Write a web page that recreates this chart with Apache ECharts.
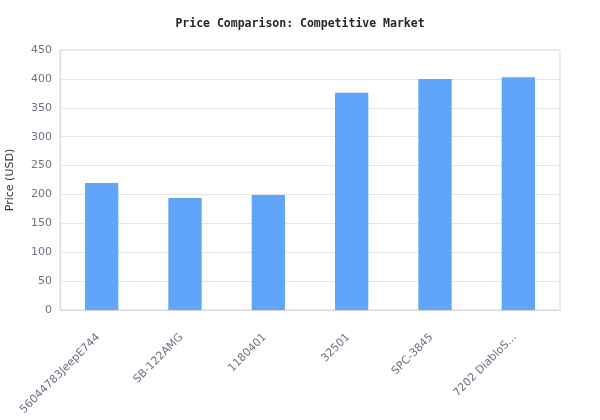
<!DOCTYPE html>
<html>
<head>
<meta charset="utf-8">
<script src="https://cdn.jsdelivr.net/npm/echarts@6/dist/echarts.min.js"></script>
<style>
    html, body { margin: 0; padding: 0; background: #fff; }
    #chart { width: 600px; height: 420px; }
</style>
</head>
<body>
<div id="chart"></div>
<script>
    // 产品编号与价格
    var partNumbers = ['56044783JeepE744', 'SB-122AMG', '1180401', '32501', 'SPC-3845', '7202 DiabloS...'];
    var prices = [220, 194, 199, 376, 400, 403];
    var yTicks = { min: 0, max: 450, interval: 50 };

    var chart = echarts.init(document.getElementById('chart'));
    var option = {
        animation: false,
        textStyle: { fontFamily: 'DejaVu Sans' },
        title: {
            text: 'Price Comparison: Competitive Market',
            left: 'center',
            top: 13,
            textStyle: {
                fontFamily: 'DejaVu Sans Mono',
                fontSize: 11.5,
                fontWeight: 'bold',
                color: '#262626'
            }
        },
        grid: {
            left: 60,
            right: 40,
            top: 50,
            bottom: 110,
            outerBoundsMode: 'none',
            show: true,
            borderColor: '#d9d9d9',
            borderWidth: 1
        },
        xAxis: {
            type: 'category',
            data: partNumbers,
            axisLine: { lineStyle: { color: '#d9d9d9' } },
            axisTick: { show: false },
            axisLabel: {
                rotate: 45,
                interval: 0,
                fontSize: 11,
                color: '#6b7280',
                margin: 22,
                padding: [0, 5, 0, 0]
            }
        },
        yAxis: {
            type: 'value',
            min: yTicks.min,
            max: yTicks.max,
            interval: yTicks.interval,
            name: 'Price (USD)',
            nameLocation: 'middle',
            nameGap: 44,
            nameTextStyle: { fontSize: 11, color: '#333' },
            axisLine: { show: true, lineStyle: { color: '#d9d9d9' } },
            axisTick: { show: false },
            axisLabel: { fontSize: 11, color: '#6b7280' },
            splitLine: { lineStyle: { color: '#e6e6e6' } }
        },
        series: [
            {
                type: 'bar',
                data: prices,
                barWidth: '40%',
                itemStyle: { color: '#60a5fa' }
            }
        ]
    };
    chart.setOption(option);
</script>
</body>
</html>
